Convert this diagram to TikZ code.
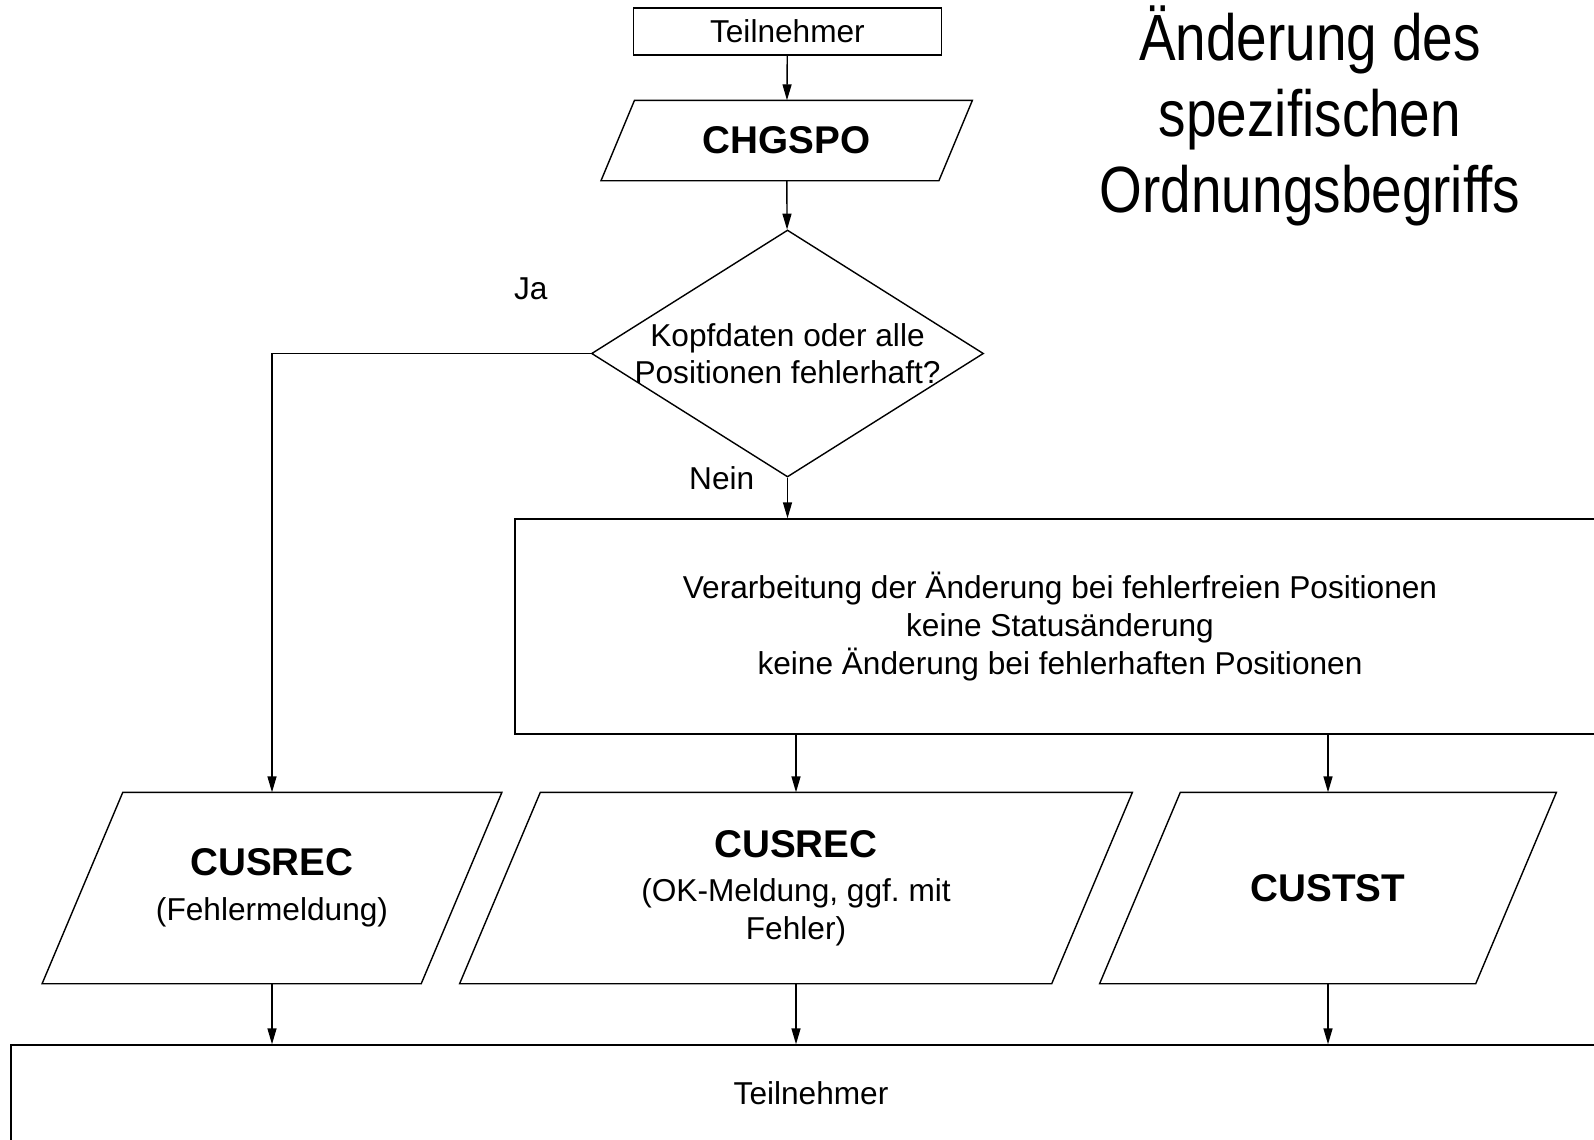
\documentclass[tikz,border=0pt]{standalone}
\usepackage{fontspec}
\setmainfont{Liberation Sans}
\newfontfamily\titlefont[FakeStretch=0.84]{Liberation Sans}
\usetikzlibrary{shapes.geometric,arrows.meta}

\newcommand{\progname}[1]{{\fontsize{11}{13}\selectfont\bfseries #1}}

\begin{document}
\begin{tikzpicture}[
		font=\fontsize{9}{10.7}\selectfont,
		every node/.style={inner sep=0pt},
		box/.style={draw, rectangle, align=center},
		io/.style={rectangle, align=center, minimum height=1.9cm},
		decision/.style={draw, diamond, aspect=1.58, align=center, inner xsep=-0.2cm},
		flow/.style={-{Triangle[length=0.16cm, width=0.09cm]}}
	]
		%\draw[lightgray] (0, 0) grid (16, 11);
		\useasboundingbox (0, 0) rectangle (15.94, 11.39);
		
		\node[box, minimum width=3.08cm, minimum height=0.468cm] (start) at (7.874, 11.075) {Teilnehmer};
		\node[io, minimum width=3.03cm, minimum height=0.79cm] (chgspo) at (7.867, 9.985) {\progname{CHGSPO}};
		\node[decision, minimum width=3.92cm, minimum height=2.47cm] (check) at (7.875, 7.855) {Kopfdaten oder alle\\Positionen fehlerhaft?};
		\node[box, minimum width=10.90cm, minimum height=2.15cm] (proc) at (10.60, 5.125) {Verarbeitung der Änderung bei fehlerfreien Positionen\\keine Statusänderung\\keine Änderung bei fehlerhaften Positionen};
		
		\node[io, minimum width=2.97cm] (cusrecerr) at (2.72, 2.51) {\progname{CUSREC}\\[2pt](Fehlermeldung)};
		\node[io, minimum width=5.10cm] (cusrecok) at (7.96, 2.51) {\progname{CUSREC}\\[2pt](OK-Meldung, ggf.\ mit\\Fehler)};
		\node[io, minimum width=2.94cm] (custst) at (13.28, 2.51) {\progname{CUSTST}};
		
		% slanted outline round the io nodes
		\foreach \n/\e in {chgspo/0.335, cusrecerr/0.807, cusrecok/0.807, custst/0.807}
			\draw ([xshift=-\e cm]\n.south west) -- (\n.south east) -- ([xshift=\e cm]\n.north east) -- (\n.north west) -- cycle;
		
		\node[box, minimum width=16.0cm, minimum height=0.96cm] (final) at (8.11, 0.46) {Teilnehmer};
		
		\node (ja) at (5.307, 8.503) {Ja};
		\node (nein) at (7.217, 6.607) {Nein};
		
		\node[align=center, font=\titlefont\fontsize{18.6}{21.6}\selectfont] (title) at (13.10, 10.23) {Änderung des\\spezifischen\\Ordnungsbegriffs};
		
		\draw[flow] (start) -- (chgspo);
		\draw[flow] (chgspo) -- (check);
		\draw[flow] (check.west) -| (cusrecerr.north);
		\draw[flow] (check.south) -- (check.south |- proc.north);
		\draw[flow] (proc.south -| cusrecok.north) -- (cusrecok.north);
		\draw[flow] (proc.south -| custst.north) -- (custst.north);
		
		\draw[flow] (cusrecerr.south) -- (cusrecerr.south |- final.north);
		\draw[flow] (cusrecok.south) -- (cusrecok.south |- final.north);
		\draw[flow] (custst.south) -- (custst.south |- final.north);
	\end{tikzpicture}
\end{document}
